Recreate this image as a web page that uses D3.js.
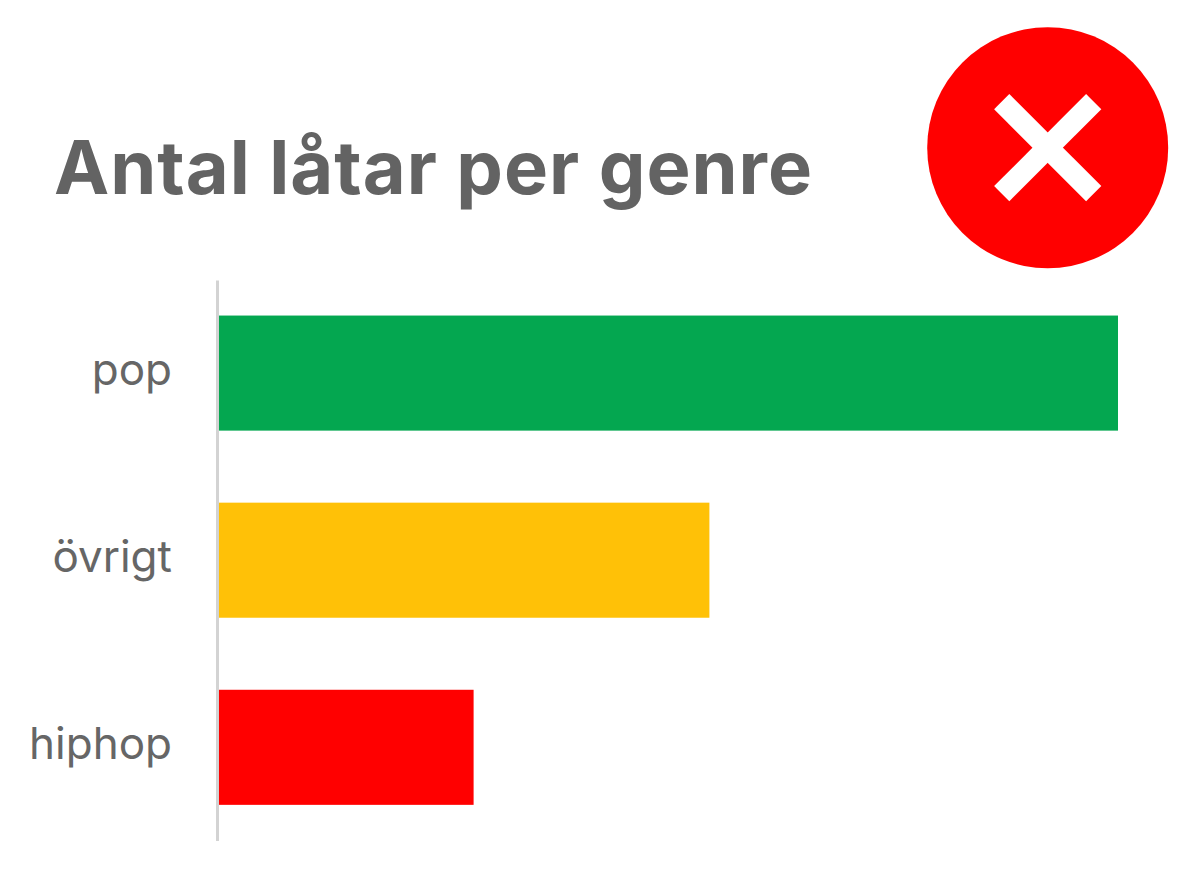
<!DOCTYPE html>
<html><head><meta charset="utf-8">
<script src="https://cdn.jsdelivr.net/npm/d3@7/dist/d3.min.js"></script>
<style>html,body{margin:0;padding:0;background:#fff}svg{display:block}</style>
</head><body><svg id="c" width="1200" height="896"></svg>
<script>
const categories = ["pop","övrigt","hiphop"];
const values = [100, 54.6, 28.4];
const barColors = ["#04a750","#ffc107","#ff0000"];
const title = "Antal låtar per genre";
const svg = d3.select("#c");
const x = d3.scaleLinear().domain([0,100]).range([218,1118]);
const y = d3.scaleBand().domain(categories).range([280,840.4]).paddingInner(0.385).paddingOuter(0.19);
svg.append("text").attr("x",54).attr("y",194).attr("font-family","Inter, 'Open Sans', sans-serif").attr("font-weight",700).attr("font-size",74)
 .attr("textLength",758).attr("lengthAdjust","spacing").attr("fill","#636363").text(title);
svg.selectAll("rect.bar").data(categories).join("rect").attr("class","bar")
 .attr("x",x(0)).attr("y",d=>y(d)).attr("height",y.bandwidth())
 .attr("width",(d,i)=>x(values[i])-x(0)).attr("fill",(d,i)=>barColors[i]);
const ax = svg.append("g").attr("transform","translate(217,0)").call(d3.axisLeft(y).tickSize(0).tickPadding(45));
ax.select(".domain").attr("stroke","#d3d3d3").attr("stroke-width",3);
ax.selectAll("text").attr("font-family","Inter, 'Open Sans', sans-serif").attr("font-size",44).attr("fill","#666").attr("y",-2);
const bad = svg.append("g").attr("transform","translate(1047.7,147.7)");
bad.append("circle").attr("r",120.5).attr("fill","#ff0000");
bad.append("path").attr("d",d3.line()([[-46,-46],[46,46]])).attr("stroke","#fff").attr("stroke-width",21.5);
bad.append("path").attr("d",d3.line()([[46,-46],[-46,46]])).attr("stroke","#fff").attr("stroke-width",21.5);
</script></body></html>
